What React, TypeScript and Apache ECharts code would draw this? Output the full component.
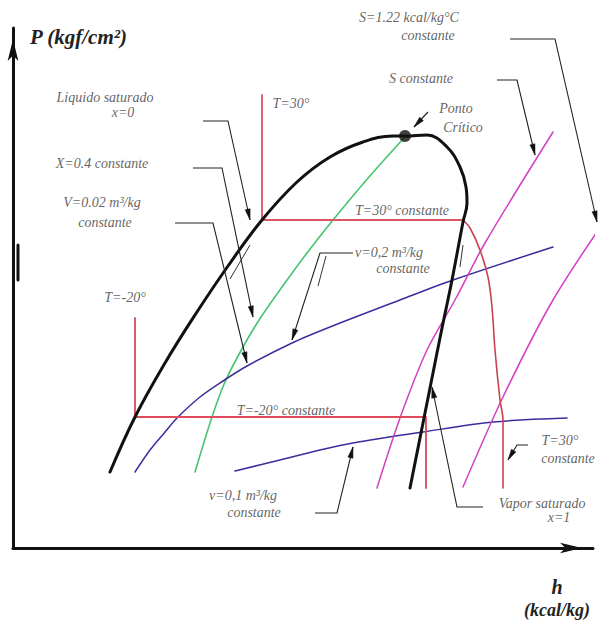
import React, { useEffect, useRef } from "react";
import * as echarts from "echarts";

type Pt = [number, number];

// Schematic P-h diagram, h and P in arbitrary units (h: 0..580, P: 0..520)

// Saturation dome: liquid branch (x = 0), critical point, vapour branch (x = 1)
const saturationDome: Pt[] = [
  [97, 76], [122, 131], [152, 185], [182, 233], [215, 282], [249, 328],
  [284, 366], [317, 391], [350, 406], [380, 412], [392, 412],
  [414, 413], [434, 401], [447, 381], [453, 361], [454, 345], [450, 326],
  [439, 268], [428, 215], [418, 165], [408, 115], [397, 60],
];
const criticalPoint: Pt = [392, 412];

// Constant quality X = 0.4
const qualityLine: Pt[] = [
  [391, 410], [356, 371], [320, 328], [294, 295], [269, 261], [248, 231],
  [230, 201], [212, 166], [199, 131], [182, 76],
];

// Isotherms
const isoT30Flat: Pt[] = [[249, 453], [249, 328], [450, 328]];
const isoT30Vapour: Pt[] = [
  [450, 328], [457, 320], [467, 298], [475, 271], [479, 241], [482, 198],
  [487, 148], [490, 128], [490, 60],
];
const isoTm20: Pt[] = [[122, 230], [122, 131], [413, 131], [413, 60]];

// Isentropes
const isoS: Pt[] = [[540, 416], [472, 305], [442, 248], [414, 198], [387, 130], [364, 60]];
const isoS122: Pt[] = [[599, 338], [540, 248], [490, 151], [450, 61]];

// Constant specific volume
const isoV002: Pt[] = [
  [122, 76], [137, 98], [152, 116], [164, 130], [187, 151], [210, 167],
  [234, 182], [279, 205], [317, 221], [387, 248], [440, 268], [540, 301],
];
const isoV01: Pt[] = [[222, 77], [267, 88], [307, 98], [340, 105], [410, 116], [480, 126], [554, 130]];

// Leader lines ending in an arrowhead
const leaderPaths: Pt[][] = [
  [[190, 427], [215, 427], [237, 328]],
  [[180, 380], [209, 380], [240, 231]],
  [[162, 325], [200, 325], [234, 185]],
  [[340, 295], [307, 295], [279, 208]],
  [[415, 436], [401, 421]],
  [[497, 509], [542, 509], [584, 326]],
  [[484, 468], [504, 468], [522, 393]],
  [[302, 35], [324, 35], [340, 101]],
  [[515, 103], [504, 103], [495, 88]],
  [[470, 41], [444, 41], [419, 161]],
];

// Plain strokes: doubled leader and dome marks
const plainStrokes: Pt[][] = [
  [[313, 292], [305, 262]],
  [[217, 269], [237, 303]],
  [[450, 303], [447, 281]],
];
const axisMark: Pt[] = [[5, 303], [5, 268]];

// Text annotations: [text, h, P] (centre of the text)
const annotations: [string, number, number][] = [
  ["Liquido saturado", 92, 451],
  ["x=0", 110, 436],
  ["X=0.4 constante", 89, 385],
  ["V=0.02 m³/kg", 89, 346],
  ["constante", 92, 326],
  ["T=30°", 278, 445],
  ["S=1.22 kcal/kg°C", 396, 531],
  ["constante", 415, 513],
  ["S constante", 408, 470],
  ["Ponto", 443, 440],
  ["Crítico", 450, 421],
  ["T=30° constante", 389, 338],
  ["v=0,2 m³/kg", 376, 296],
  ["constante", 390, 280],
  ["T=-20°", 112, 251],
  ["T=-20° constante", 273, 138],
  ["v=0,1 m³/kg", 230, 53],
  ["constante", 241, 36],
  ["T=30°", 547, 108],
  ["constante", 555, 90],
  ["Vapor saturado", 529, 45],
  ["x=1", 546, 31],
];

const LABEL_FONT = "'Liberation Serif', 'Times New Roman', serif";

function curve(name: string, data: Pt[], color: string, width: number, smooth: boolean | number, z = 2) {
  return {
    name,
    type: "line",
    data,
    smooth,
    symbol: "none",
    showSymbol: false,
    clip: false,
    silent: true,
    z,
    lineStyle: { color, width, cap: "round", join: "round" },
  };
}

export default function App() {
  const ref = useRef<HTMLDivElement>(null);

  useEffect(() => {
    if (!ref.current) return;
    const chart = echarts.init(ref.current, undefined, { renderer: "svg" });

    const axisLineBase = {
      show: true,
      onZero: false,
      symbol: ["none", "arrow"],
      symbolSize: [8, 22],
      symbolOffset: [0, -11],
      lineStyle: { color: "#111", width: 3 },
    };

    chart.setOption({
      animation: false,
      backgroundColor: "#fff",
      grid: { left: 13, right: 20, top: 28, bottom: 72, containLabel: false, outerBoundsMode: "none" },
      xAxis: {
        type: "value",
        min: 0,
        max: 580,
        axisLine: axisLineBase,
        axisTick: { show: false },
        axisLabel: { show: false },
        splitLine: { show: false },
        name: "{a|h}\n{b|(kcal/kg)}",
        nameLocation: "end",
        nameGap: -36,
        nameTextStyle: {
          align: "center",
          verticalAlign: "top",
          padding: [27, 0, 0, 0],
          rich: {
            a: { fontFamily: LABEL_FONT, fontStyle: "italic", fontWeight: "bold", fontSize: 20, color: "#222", lineHeight: 23, align: "center" },
            b: { fontFamily: LABEL_FONT, fontStyle: "italic", fontWeight: "bold", fontSize: 18, color: "#222", lineHeight: 23, align: "center" },
          },
        },
      },
      yAxis: {
        type: "value",
        min: 0,
        max: 520,
        axisLine: axisLineBase,
        axisTick: { show: false },
        axisLabel: { show: false },
        splitLine: { show: false },
        name: "P (kgf/cm²)",
        nameLocation: "end",
        nameGap: -9,
        nameTextStyle: {
          align: "left",
          verticalAlign: "middle",
          padding: [0, 0, 0, 17],
          fontFamily: LABEL_FONT,
          fontStyle: "italic",
          fontWeight: "bold",
          fontSize: 21,
          color: "#222",
        },
      },
      series: [
        curve("X = 0.4", qualityLine, "#46c46e", 1.6, 0.3, 2),
        curve("v = 0.02", isoV002, "#3a2e9e", 1.5, 0.3, 2),
        curve("v = 0.1", isoV01, "#3a2e9e", 1.5, 0.3, 2),
        curve("S", isoS, "#d23fc6", 1.5, 0.3, 2),
        curve("S = 1.22", isoS122, "#d23fc6", 1.5, 0.3, 2),
        curve("T = 30 (flat)", isoT30Flat, "#dc5565", 1.8, false, 3),
        curve("T = 30 (vapour)", isoT30Vapour, "#c8434f", 1.6, 0.3, 3),
        curve("T = -20", isoTm20, "#dc4a5c", 1.8, false, 3),
        curve("saturation", saturationDome, "#111", 3, 0.4, 4),
        curve("axis mark", axisMark, "#111", 3, false, 5),
        {
          type: "lines",
          coordinateSystem: "cartesian2d",
          polyline: true,
          silent: true,
          z: 5,
          symbol: "none",
          lineStyle: { color: "#333", width: 1, opacity: 1 },
          data: plainStrokes.map((coords) => ({ coords })),
        },
        {
          type: "custom",
          coordinateSystem: "cartesian2d",
          silent: true,
          z: 6,
          clip: false,
          data: leaderPaths.map((p) => p[p.length - 1]),
          renderItem: (params: any, api: any) => {
            const pts = leaderPaths[params.dataIndex].map((p) => api.coord(p));
            const n = pts.length;
            const [x1, y1] = pts[n - 2];
            const [x2, y2] = pts[n - 1];
            const ang = Math.atan2(y2 - y1, x2 - x1);
            const L = 11;
            const W = 2.6;
            const bx = x2 - L * Math.cos(ang);
            const by = y2 - L * Math.sin(ang);
            const nx = -Math.sin(ang);
            const ny = Math.cos(ang);
            return {
              type: "group",
              children: [
                {
                  type: "polyline",
                  shape: { points: pts },
                  style: { stroke: "#222", lineWidth: 1.1, fill: null },
                },
                {
                  type: "polygon",
                  shape: { points: [[x2, y2], [bx + nx * W, by + ny * W], [bx - nx * W, by - ny * W]] },
                  style: { fill: "#111", stroke: "#111", lineWidth: 0.5 },
                },
              ],
            };
          },
        },
        {
          name: "critical point",
          type: "scatter",
          data: [criticalPoint],
          symbol: "circle",
          symbolSize: 12,
          silent: true,
          z: 7,
          itemStyle: { color: "#111" },
        },
        {
          name: "annotations",
          type: "scatter",
          clip: false,
          silent: true,
          z: 8,
          symbolSize: 1,
          itemStyle: { color: "rgba(0,0,0,0)" },
          data: annotations.map(([text, x, y]) => ({
            value: [x, y],
            label: { formatter: text },
          })),
          label: {
            show: true,
            position: "inside",
            align: "center",
            verticalAlign: "middle",
            fontFamily: LABEL_FONT,
            fontStyle: "italic",
            fontSize: 14,
            color: "#3a3a3a",
          },
          labelLayout: { hideOverlap: false },
        },
      ],
    });

    return () => chart.dispose();
  }, []);

  return (
    <div
      ref={ref}
      style={{ position: "absolute", left: 0, top: 0, width: 613, height: 620 }}
    />
  );
}
